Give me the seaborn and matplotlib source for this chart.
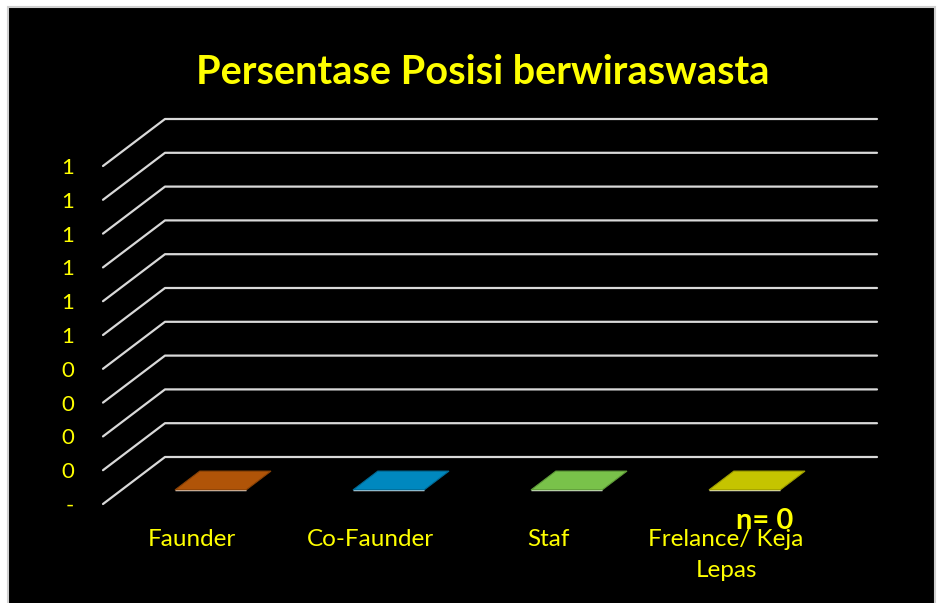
"""
Grafik batang 3D (gaya Excel): persentase posisi berwiraswasta.
"""

import matplotlib
matplotlib.use("Agg")
import matplotlib.pyplot as plt
import seaborn as sns
import numpy as np
from matplotlib.patches import Rectangle, Polygon
from matplotlib.lines import Line2D
from matplotlib.transforms import IdentityTransform, offset_copy

categories = ["Faunder", "Co-Faunder", "Staf", "Frelance/ Keja\nLepas"]
values = [0, 0, 0, 0]
n_total = 0
y_ticks = [0.0, 0.1, 0.2, 0.3, 0.4, 0.5, 0.6, 0.7, 0.8, 0.9, 1.0]
y_tick_labels = ["-", "0", "0", "0", "0", "1", "1", "1", "1", "1", "1"]
bar_colors = ["#b05408", "#0088bf", "#79c24a", "#c5c400"]
edge_colors = ["#8a4206", "#006a95", "#5e9a38", "#9e9e00"]

YELLOW = "#ffff00"
GRID = "#d9d9d9"
DEPTH = np.array([62.0, 47.0])  # kedalaman lantai 3D, piksel
BAR_DEPTH = (0.3, 0.7)

sns.set_theme(style="dark")
plt.rcParams["font.family"] = ["Lato", "DejaVu Sans"]

fig = plt.figure(figsize=(9.4, 6.03), dpi=100, facecolor="white")
fig.add_artist(Rectangle((8 / 940, -0.01), 927 / 940, 1 - 7 / 603 + 0.01,
                         transform=fig.transFigure, facecolor="black",
                         edgecolor="#d0d0d0", lw=1.5, zorder=0))

ax = fig.add_axes([103 / 940, 99 / 603, 712 / 940, 338 / 603])
ax.set_facecolor("none")

sns.barplot(x=categories, y=values, hue=categories, palette=bar_colors,
            width=0.4, legend=False, ax=ax)
ax.set_xlim(-0.5, len(categories) - 0.5)
ax.set_ylim(0, 1)
for s in ax.spines.values():
    s.set_visible(False)
ax.grid(False)
ax.set_xlabel("")
ax.set_ylabel("")


def to_px(x, y, depth=0.0):
    return ax.transData.transform((x, y)) + DEPTH * depth


# garis grid: diagonal di kiri lalu horizontal di dinding belakang
x_lo, x_hi = ax.get_xlim()
for v in y_ticks:
    pts = np.array([to_px(x_lo, v), to_px(x_lo, v, 1), to_px(x_hi, v, 1)])
    fig.add_artist(Line2D(pts[:, 0], pts[:, 1], transform=IdentityTransform(),
                          color=GRID, lw=1.6, zorder=1))

# batang: muka depan digeser ke kedalaman, plus muka atas (jajaran genjang)
front = offset_copy(ax.transData, fig, x=DEPTH[0] * BAR_DEPTH[0],
                    y=DEPTH[1] * BAR_DEPTH[0], units="dots")
for p, fc, ec in zip(ax.patches, bar_colors, edge_colors):
    p.set_transform(front)
    x0, w, h = p.get_x(), p.get_width(), p.get_height()
    d0, d1 = BAR_DEPTH
    verts = [to_px(x0, h, d0), to_px(x0 + w, h, d0),
             to_px(x0 + w, h, d1), to_px(x0, h, d1)]
    fig.add_artist(Polygon(verts, closed=True, transform=IdentityTransform(),
                           facecolor=fc, edgecolor=ec, lw=0.8, zorder=3))

ax.set_yticks(y_ticks, y_tick_labels)
ax.tick_params(axis="y", length=0, pad=21, labelsize=16, labelcolor=YELLOW)
ax.tick_params(axis="x", length=0, pad=18, labelsize=17.5, labelcolor=YELLOW)
for lab in ax.get_xticklabels():
    lab.set_linespacing(1.6)

fig.text(483 / 940, 1 - 72 / 603, "Persentase Posisi berwiraswasta",
         ha="center", va="center", color=YELLOW, fontsize=28.5, fontweight="bold")
fig.text(765 / 940, 1 - 521 / 603, f"n= {n_total}", ha="center", va="center",
         color=YELLOW, fontsize=21, fontweight="bold")

fig.savefig("out.png", dpi=100, facecolor="white")
